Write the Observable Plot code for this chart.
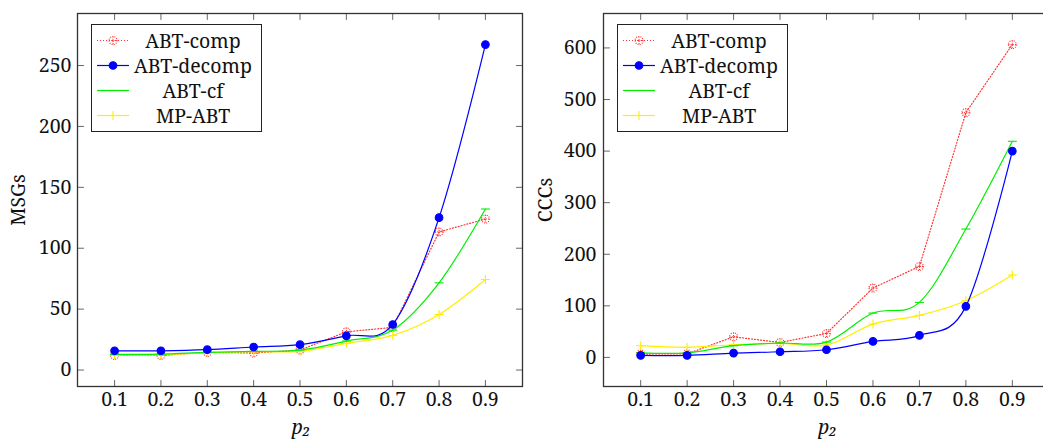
<!DOCTYPE html>
<html><head><meta charset="utf-8">
<script src="https://cdn.jsdelivr.net/npm/d3@7"></script>
<script src="https://cdn.jsdelivr.net/npm/@observablehq/plot@0.6"></script>
<style>
html,body{margin:0;padding:0;background:#fff;overflow:hidden;width:1043px;height:439px}
#wrap{position:relative;width:1043px;height:439px;font-family:"Noto Serif","Liberation Serif",serif;overflow:hidden}
.panel{position:absolute;top:0}
.legend{position:absolute;top:24px;width:171px;height:108px;box-sizing:border-box;border:1.3px solid #222;background:#fff;padding-top:3px}
.row{display:flex;align-items:center;height:25px}
.row svg{margin-left:5px;flex:none}
.row span{width:128px;text-align:center;font-size:19.5px;color:#111;line-height:25px;white-space:nowrap}
</style></head><body><div id="wrap"></div>
<script>
// ---- data ----
const p2 = [0.1, 0.2, 0.3, 0.4, 0.5, 0.6, 0.7, 0.8, 0.9];
const seriesNames = ["ABT-comp", "ABT-decomp", "ABT-cf", "MP-ABT"];
const msgsComp   = [12, 12, 14.5, 14, 16.4, 31.4, 35, 113.4, 124];
const msgsDecomp = [15.8, 15.8, 16.7, 18.9, 20.8, 28.1, 37.4, 125.1, 267.2];
const msgsCf     = [12.8, 13, 14.5, 15.3, 16.4, 23.8, 32.8, 71.6, 132.2];
const msgsMp     = [12.3, 12.5, 14.2, 15, 15.3, 21.9, 28.4, 45.6, 74.3];
const cccsComp   = [6.5, 7, 40, 29, 46.5, 134.6, 176.5, 474.6, 606.5];
const cccsDecomp = [3.9, 3.9, 8.4, 11, 14.9, 31, 42.7, 99, 400];
const cccsCf     = [9, 9, 22.7, 27.9, 29.8, 86, 106.7, 249, 419];
const cccsMp     = [22.7, 19.4, 24.6, 27.2, 24, 64.7, 81.5, 110, 159.8];
const xTicks = [0.1, 0.2, 0.3, 0.4, 0.5, 0.6, 0.7, 0.8, 0.9];
const msgsTicks = [0, 50, 100, 150, 200, 250];
const cccsTicks = [0, 100, 200, 300, 400, 500, 600];
const xLabel = "p\u2082";

const FONT = '"Noto Serif", "Liberation Serif", serif';

// ---- symbols ----
const rad = s => Math.sqrt(s / Math.PI);
const symDash = {draw(c, s) { const r = rad(s); c.moveTo(-r, 0); c.lineTo(r, 0); }};
const symPlus = {draw(c, s) { const r = rad(s); c.moveTo(-r, 0); c.lineTo(r, 0); c.moveTo(0, -r); c.lineTo(0, r); }};
const symOplus = {draw(c, s) { const r = rad(s); c.moveTo(r, 0); c.arc(0, 0, r, 0, 2 * Math.PI); c.moveTo(-r, 0); c.lineTo(r, 0); c.moveTo(0, -r); c.lineTo(0, r); }};
const symDisc = {draw(c, s) { const r = rad(s); c.moveTo(r, 0); c.arc(0, 0, r, 0, 2 * Math.PI); c.closePath(); }};

const styles = {
  "ABT-comp":   {stroke: "#ff3333", dash: "1 2", curve: "linear",   symbol: symOplus, r: 4,   fill: "none", mdash: "1 1.2"},
  "ABT-decomp": {stroke: "#0000ff", dash: null,  curve: "cardinal", symbol: symDisc,  r: 3.8, fill: "#0000ff", mdash: null},
  "ABT-cf":     {stroke: "#00ee00", dash: null,  curve: "cardinal", symbol: symDash,  r: 4.5, fill: "none", mdash: null},
  "MP-ABT":     {stroke: "#ffee00", dash: null,  curve: "cardinal", symbol: symPlus,  r: 4.5, fill: "none", mdash: null}
};

const tickShape = {draw(c, l) { c.moveTo(0, 0); c.lineTo(0, -l); }};

function enlarge(vals) {
  const [lo, hi] = d3.extent(vals);
  const pad = (hi - lo) * 0.1;
  return [lo - pad, hi + pad];
}

function panel(seriesArrays, yTicks, yLabel, opts) {
  const rows = [];
  seriesNames.forEach((name, i) => p2.forEach((x, j) => rows.push({name, x, y: seriesArrays[i][j]})));
  const xDomain = enlarge(p2);
  const yDomain = enlarge(rows.map(d => d.y));
  const marks = [];
  const order = ["ABT-comp", "MP-ABT", "ABT-cf", "ABT-decomp"];
  for (const name of order) {
    const st = styles[name];
    const data = rows.filter(d => d.name === name);
    marks.push(Plot.line(data, {x: "x", y: "y", stroke: st.stroke, strokeWidth: 1.2, strokeDasharray: st.dash, curve: st.curve}));
    marks.push(Plot.dot(data, {x: "x", y: "y", symbol: st.symbol, r: st.r, fill: st.fill, stroke: st.stroke, strokeWidth: 1.1, strokeDasharray: st.mdash}));
  }
  const tk = {length: 6, anchor: "start", shape: tickShape, stroke: "#666", strokeWidth: 1};
  marks.push(
    Plot.vector(xTicks, {x: d => d, frameAnchor: "bottom", rotate: 0, ...tk}),
    Plot.vector(xTicks, {x: d => d, frameAnchor: "top", rotate: 180, ...tk}),
    Plot.vector(yTicks, {y: d => d, frameAnchor: "left", rotate: 90, ...tk}),
    Plot.vector(yTicks, {y: d => d, frameAnchor: "right", rotate: -90, ...tk}),
    Plot.frame({stroke: "#333", strokeWidth: 1.3}),
    Plot.axisX(xTicks, {anchor: "bottom", tickSize: 0, tickPadding: 6, tickFormat: d3.format(".1f"), label: null, fontFamily: FONT}),
    Plot.axisY(yTicks, {anchor: "left", tickSize: 0, tickPadding: opts.yPad, tickFormat: d => String(d), label: null, fontFamily: FONT}),
    Plot.text([yLabel], {frameAnchor: "left", dx: opts.labelDx, rotate: -90, textAnchor: "middle", lineAnchor: "middle", text: d => d, fontFamily: FONT}),
    Plot.text([xLabel], {frameAnchor: "bottom", dy: 47, dx: 1, fontStyle: "italic", fontSize: 19.5, lineAnchor: "bottom", text: d => d, fontFamily: FONT})
  );
  const svg = Plot.plot({
    width: opts.width, height: 439,
    marginLeft: opts.ml, marginRight: opts.mr, marginTop: 13, marginBottom: 53,
    x: {domain: xDomain, axis: null},
    y: {domain: yDomain, axis: null},
    style: {fontFamily: FONT, fontSize: "19.5px", color: "#111", background: "transparent", overflow: "visible"},
    marks
  });
  return svg;
}

function legend(left) {
  const div = document.createElement("div");
  div.className = "legend";
  div.style.left = left + "px";
  for (const name of seriesNames) {
    const st = styles[name];
    const row = document.createElement("div");
    row.className = "row";
    const s = d3.create("svg").attr("width", 32).attr("height", 25);
    s.append("line").attr("x1", 0).attr("x2", 32).attr("y1", 12.5).attr("y2", 12.5)
      .attr("stroke", st.stroke).attr("stroke-width", 1.2).attr("stroke-dasharray", st.dash);
    const p = d3.path();
    st.symbol.draw(p, Math.PI * st.r * st.r);
    s.append("path").attr("d", p.toString()).attr("transform", "translate(16,12.5)")
      .attr("fill", st.fill).attr("stroke", st.stroke).attr("stroke-width", 1.1).attr("stroke-dasharray", st.mdash);
    row.appendChild(s.node());
    const sp = document.createElement("span");
    sp.textContent = name;
    sp.style.fontFamily = FONT;
    row.appendChild(sp);
    div.appendChild(row);
  }
  return div;
}

const wrap = document.getElementById("wrap");
const left = panel([msgsComp, msgsDecomp, msgsCf, msgsMp], msgsTicks, "MSGs", {width: 523, ml: 77, mr: 1, yPad: 6, labelDx: -59});
left.classList.add("panel"); left.style.left = "0px";
const right = panel([cccsComp, cccsDecomp, cccsCf, cccsMp], cccsTicks, "CCCs", {width: 530, ml: 80, mr: 4, yPad: 7, labelDx: -58});
right.classList.add("panel"); right.style.left = "523px";
wrap.appendChild(left);
wrap.appendChild(right);
wrap.appendChild(legend(91));
wrap.appendChild(legend(617));
</script></body></html>
